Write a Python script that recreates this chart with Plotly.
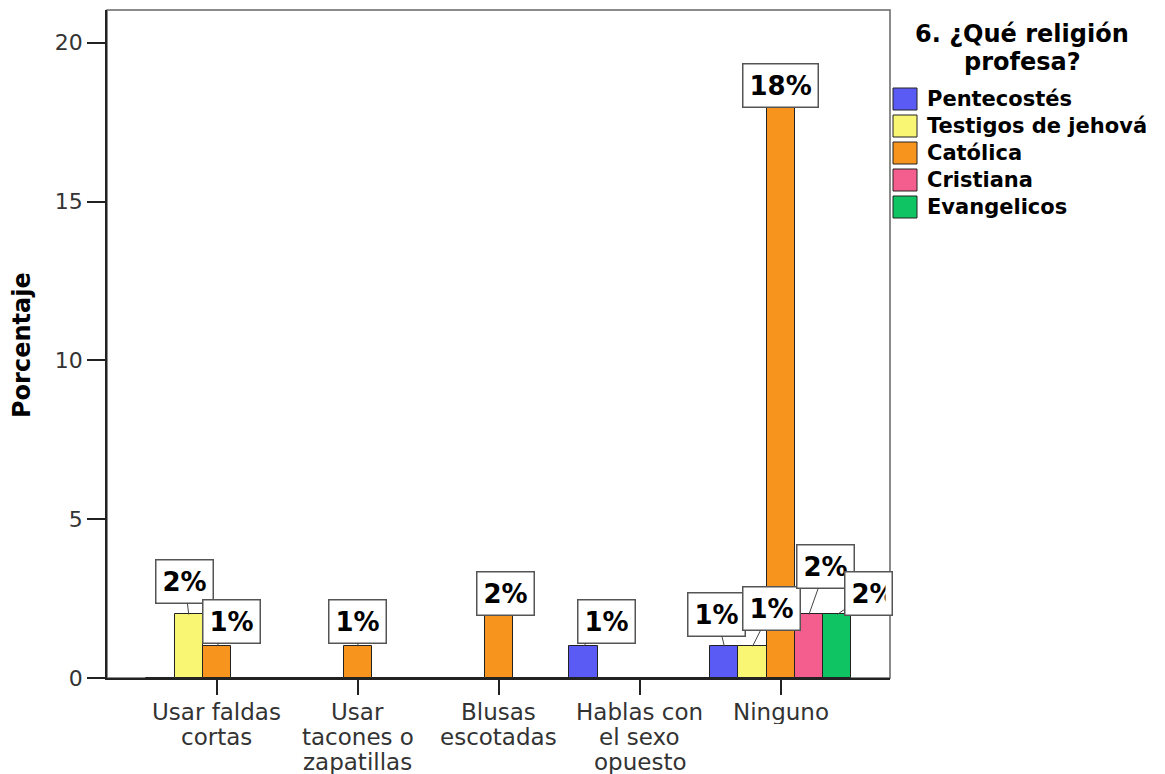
import plotly.graph_objects as go

# data (percent of respondents)
CATEGORIES = [
    "Usar faldas cortas",
    "Usar tacones o zapatillas",
    "Blusas escotadas",
    "Hablas con el sexo opuesto",
    "Ninguno",
]
CATEGORY_LINES = [
    ["Usar faldas", "cortas"],
    ["Usar", "tacones o", "zapatillas"],
    ["Blusas", "escotadas"],
    ["Hablas con", "el sexo", "opuesto"],
    ["Ninguno"],
]
LEGEND_TITLE_LINES = ["6. ¿Qué religión", "profesa?"]
SERIES = ["Pentecostés", "Testigos de jehová", "Católica", "Cristiana", "Evangelicos"]
PENTECOSTES = [0, 0, 0, 1, 1]
TESTIGOS = [2, 0, 0, 0, 1]
CATOLICA = [1, 1, 2, 0, 18]
CRISTIANA = [0, 0, 0, 0, 2]
EVANGELICOS = [0, 0, 0, 0, 2]
Y_TICKS = [0, 5, 10, 15, 20]

VALUES = [PENTECOSTES, TESTIGOS, CATOLICA, CRISTIANA, EVANGELICOS]
COLORS = ["#5A5AF5", "#F8F672", "#F7941E", "#F45E8E", "#0FC463"]

# pixel offsets (ax, ay) of each label box from its bar top
LABEL_OFFSETS = {
    (0, 1): (-4, -33), (0, 2): (15, -25),
    (1, 2): (0, -25),
    (2, 2): (7, -21),
    (3, 0): (23, -25),
    (4, 0): (-8, -32), (4, 1): (19, -38), (4, 2): (0, -21),
    (4, 3): (17, -48), (4, 4): (31, -21),
}

# the page body adds an 8px margin, so the figure is shrunk to fit the window
PAGE_OFFSET = 8
W, H = 1165 - PAGE_OFFSET, 774 - PAGE_OFFSET
ML, MT = 107 - PAGE_OFFSET, 10 - PAGE_OFFSET
MR, MB = 1165 - 890, 774 - 678
FONT = "DejaVu Sans"
LINE_STEP = 25  # tight line spacing of the category labels
TITLE_STEP = 28  # line spacing of the legend title


def px_x(px):
    """Window pixel x -> paper coordinate."""
    return (px - PAGE_OFFSET - ML) / (W - ML - MR)


def px_y(py):
    """Window pixel y -> paper coordinate."""
    return (H - MB - (py - PAGE_OFFSET)) / (H - MT - MB)


fig = go.Figure()
n = len(SERIES)
for name, vals, color in zip(SERIES, VALUES, COLORS):
    fig.add_trace(
        go.Bar(
            x=CATEGORIES,
            y=vals,
            name=name,
            marker={"color": color, "line": {"color": "#222222", "width": 1}},
            showlegend=False,
        )
    )

annotations = []
# value labels in boxes with leader lines
for j, vals in enumerate(VALUES):
    for i, v in enumerate(vals):
        if v == 0:
            continue
        ax, ay = LABEL_OFFSETS.get((i, j), (0, -25))
        ann = dict(
            x=i + (j - (n - 1) / 2) / n,
            y=v,
            xref="x",
            yref="y",
            text=f"<b>{v}%</b>",
            showarrow=True,
            arrowhead=0,
            arrowwidth=1,
            arrowcolor="#444444",
            ax=ax,
            ay=ay,
            standoff=0,
            bgcolor="white",
            bordercolor="#555555",
            borderwidth=1.5,
            borderpad=6,
            font={"family": FONT, "size": 26, "color": "black"},
        )
        if (i, j) == (4, 4):
            # this box is cut by the plot frame in the reference
            ann.update(width=34, align="left")
        annotations.append(ann)

# category labels, one line each for tight SPSS-like spacing
for i, lines in enumerate(CATEGORY_LINES):
    for k, line in enumerate(lines):
        annotations.append(
            dict(
                x=i, xref="x",
                y=px_y(711 + LINE_STEP * k), yref="paper",
                text=line, showarrow=False,
                xanchor="center", yanchor="middle",
                height=LINE_STEP, borderpad=0,
                font={"family": FONT, "size": 23, "color": "#333333"},
            )
        )

# y axis title
annotations.append(
    dict(
        x=px_x(22), y=px_y(345), xref="paper", yref="paper",
        text="<b>Porcentaje</b>", textangle=-90, showarrow=False,
        xanchor="center", yanchor="middle",
        font={"family": FONT, "size": 24, "color": "black"},
    )
)

# legend drawn by hand to match the large swatches
for k, line in enumerate(LEGEND_TITLE_LINES):
    annotations.append(
        dict(
            x=px_x(1022), y=px_y(34 + TITLE_STEP * k), xref="paper", yref="paper",
            text=f"<b>{line}</b>", showarrow=False,
            xanchor="center", yanchor="middle",
            height=TITLE_STEP, borderpad=0,
            font={"family": FONT, "size": 24, "color": "black"},
        )
    )

shapes = [
    dict(
        type="rect", xref="paper", yref="paper", x0=0, x1=1, y0=0, y1=1,
        line={"color": "#666666", "width": 1.5}, layer="below",
    )
]
for j, (name, color) in enumerate(zip(SERIES, COLORS)):
    top = 88 + 27 * j
    shapes.append(
        dict(
            type="rect", xref="paper", yref="paper",
            x0=px_x(893), x1=px_x(917), y0=px_y(top + 22), y1=px_y(top),
            fillcolor=color, line={"color": "#222222", "width": 1},
        )
    )
    annotations.append(
        dict(
            x=px_x(925), y=px_y(top + 11), xref="paper", yref="paper",
            text=f"<b>{name}</b>", showarrow=False,
            xanchor="left", yanchor="middle",
            font={"family": FONT, "size": 21, "color": "black"},
        )
    )

fig.update_layout(
    width=W,
    height=H,
    barmode="group",
    bargap=0,
    bargroupgap=0,
    plot_bgcolor="white",
    paper_bgcolor="white",
    margin={"l": ML, "r": MR, "t": MT, "b": MB},
    annotations=annotations,
    shapes=shapes,
    showlegend=False,
)

fig.update_xaxes(
    range=[-0.78, 4.775],
    showticklabels=False,
    ticks="outside",
    ticklen=15,
    tickwidth=1.5,
    tickcolor="#222222",
    showline=True,
    linecolor="#222222",
    linewidth=1.5,
    showgrid=False,
)

fig.update_yaxes(
    range=[0, 21.03],
    tickvals=Y_TICKS,
    ticks="outside",
    ticklen=18,
    tickwidth=1.5,
    tickcolor="#222222",
    tickfont={"family": FONT, "size": 22, "color": "#333333"},
    showline=True,
    linecolor="#222222",
    linewidth=1.5,
    showgrid=False,
    zeroline=False,
)

fig.write_html("out.html")
